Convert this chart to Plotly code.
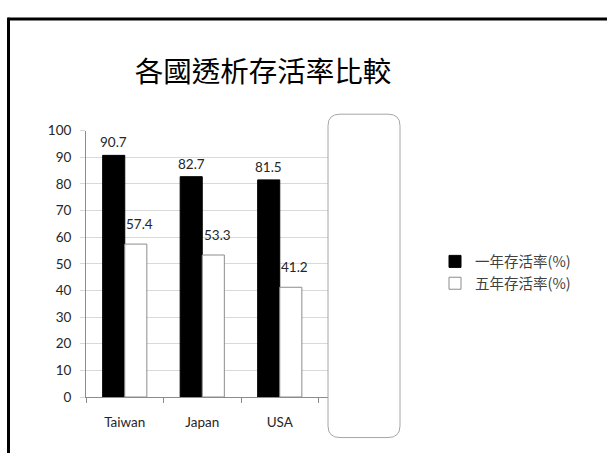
import plotly.graph_objects as go

# Survival rates by country
countries = ["Taiwan", "Japan", "USA"]
one_year = [90.7, 82.7, 81.5]
five_year = [57.4, 53.3, 41.2]
series_names = ["一年存活率(%)", "五年存活率(%)"]
title_text = "各國透析存活率比較"
y_ticks = [0, 10, 20, 30, 40, 50, 60, 70, 80, 90, 100]

W, H = 607, 461


def px(x):
    return x / W


def py(y):
    return (H - y) / H


num_font = dict(family="Lato, 'Noto Sans', sans-serif", size=13.5, color="#262626")

fig = go.Figure()
fig.add_trace(go.Bar(
    x=countries, y=one_year, name=series_names[0],
    marker=dict(color="#000000", line=dict(color="#000000", width=1)),
))
fig.add_trace(go.Bar(
    x=countries, y=five_year, name=series_names[1],
    marker=dict(color="#ffffff", line=dict(color="#8c8c8c", width=1)),
))

# Value labels above each bar (category index +/- half a bar slot)
bar_offset = 0.142
for i, v in enumerate(one_year):
    fig.add_annotation(x=i - bar_offset, y=v, xref="x", yref="y", text=str(v),
                       showarrow=False, yanchor="middle", yshift=13,
                       font=num_font)
for i, v in enumerate(five_year):
    fig.add_annotation(x=i + bar_offset, y=v, xref="x", yref="y", text=str(v),
                       showarrow=False, yanchor="middle", yshift=20, xshift=4,
                       font=num_font)

fig.update_layout(
    width=W, height=H,
    margin=dict(l=0, r=0, t=0, b=0),
    paper_bgcolor="#ffffff", plot_bgcolor="#ffffff",
    barmode="group", bargap=0.43, bargroupgap=0,
    showlegend=True,
    legend=dict(
        x=px(435), y=py(246), xanchor="left", yanchor="top",
        font=dict(family="'Noto Sans CJK TC', sans-serif", size=14.5, color="#404040"),
        itemwidth=30, tracegroupgap=0, bgcolor="rgba(0,0,0,0)",
    ),
    title=dict(
        text=title_text, x=px(263), xanchor="center", y=py(72), yanchor="middle",
        font=dict(family="'Noto Sans CJK TC', serif", size=28.5, color="#000000"),
    ),
    xaxis=dict(
        domain=[px(86), px(396)],
        type="category", categoryarray=countries + [" "],
        range=[-0.5, 3.5],
        showline=True, linecolor="#8c8c8c", linewidth=1,
        ticks="outside", tickson="boundaries", ticklen=5, tickcolor="#8c8c8c",
        showgrid=False, ticklabelstandoff=13,
        tickfont=num_font,
    ),
    yaxis=dict(
        domain=[py(403), py(127)],
        range=[0, 100], tickvals=y_ticks,
        showline=True, linecolor="#8c8c8c", linewidth=1,
        ticks="outside", ticklen=5, tickcolor="#d9d9d9",
        showgrid=True, gridcolor="#d9d9d9", gridwidth=1,
        zeroline=False, ticklabelstandoff=6,
        tickfont=num_font,
    ),
)

# Rounded placeholder box over the empty fourth slot
x0, x1, y0, y1, r = 328, 400, 110, 445, 12
path = (
    f"M {px(x0 + r)},{py(y0)} L {px(x1 - r)},{py(y0)} "
    f"Q {px(x1)},{py(y0)} {px(x1)},{py(y0 + r)} "
    f"L {px(x1)},{py(y1 - r)} Q {px(x1)},{py(y1)} {px(x1 - r)},{py(y1)} "
    f"L {px(x0 + r)},{py(y1)} Q {px(x0)},{py(y1)} {px(x0)},{py(y1 - r)} "
    f"L {px(x0)},{py(y0 + r)} Q {px(x0)},{py(y0)} {px(x0 + r)},{py(y0)} Z"
)
fig.add_shape(type="path", path=path, xref="paper", yref="paper",
              fillcolor="#ffffff", line=dict(color="#a6a6a6", width=1), layer="above")

# Slide frame: top and left edges
fig.add_shape(type="line", xref="paper", yref="paper",
              x0=px(7.5), x1=1.0, y0=py(11.5), y1=py(11.5),
              line=dict(color="#000000", width=3))
fig.add_shape(type="line", xref="paper", yref="paper",
              x0=px(8.5), x1=px(8.5), y0=py(10), y1=0,
              line=dict(color="#000000", width=3))

fig.write_html("out.html")
